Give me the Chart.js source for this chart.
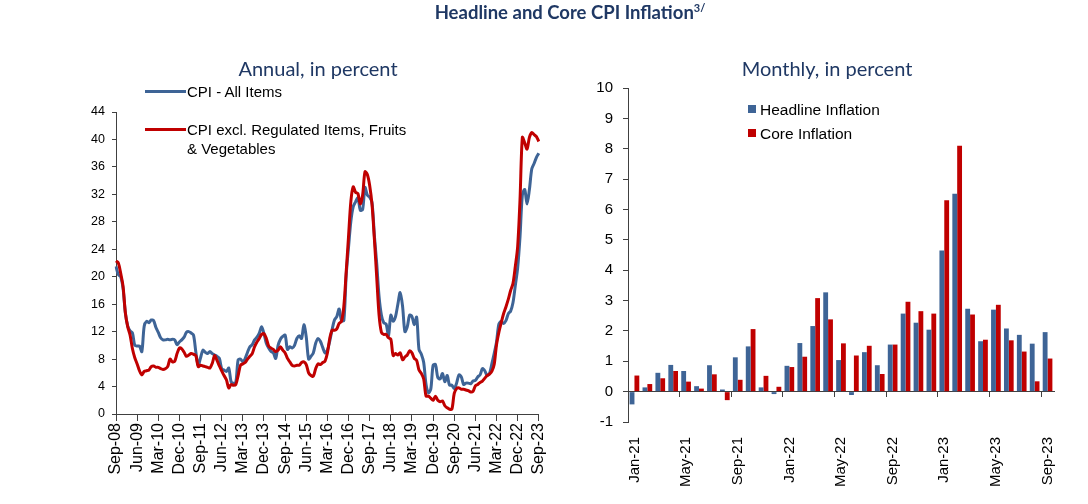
<!DOCTYPE html>
<html>
<head>
<meta charset="utf-8">
<script src="https://cdn.jsdelivr.net/npm/chart.js@4.4.0/dist/chart.umd.min.js"></script>
<style>
  body { margin: 0; background: #fff; }
  #page { position: relative; width: 1088px; height: 504px; overflow: hidden; font-family: "Liberation Sans", Arial, sans-serif; }
  canvas { position: absolute; top: 0; }
  .title { position: absolute; top: 1px; left: 0; width: 1140px; text-align: center; font: bold 18.5px Lato, sans-serif; color: #1f3864; }
  .title sup { font-size: 11px; }
  .sub { position: absolute; top: 56px; width: 400px; text-align: center; font: 20px Lato, sans-serif; color: #1f3864; }
  .lg { position: absolute; font-size: 15px; line-height: 19px; color: #000; white-space: nowrap; }
  .ln { position: absolute; height: 3px; width: 41px; }
  .sq { position: absolute; width: 8px; height: 8px; }
</style>
</head>
<body>
<div id="page">
  <canvas id="annual" width="560" height="504" style="left:0"></canvas>
  <canvas id="monthly" width="528" height="504" style="left:560px"></canvas>

  <div class="title">Headline and Core CPI Inflation<sup>3/</sup></div>
  <div class="sub" style="left:118px">Annual, in percent</div>
  <div class="sub" style="left:627px">Monthly, in percent</div>

  <div class="ln" style="left:145px; top:90px; background:#3e6496"></div>
  <div class="lg" style="left:187px; top:82px">CPI - All Items</div>
  <div class="ln" style="left:145px; top:128px; background:#c00000"></div>
  <div class="lg" style="left:187px; top:120px">CPI excl. Regulated Items, Fruits<br>&amp; Vegetables</div>

  <div class="sq" style="left:748px; top:105px; background:#3e6496"></div>
  <div class="lg" style="left:760px; top:100px; font-size:15.5px">Headline Inflation</div>
  <div class="sq" style="left:748px; top:129px; background:#c00000"></div>
  <div class="lg" style="left:760px; top:124px; font-size:15.5px">Core Inflation</div>
</div>

<script>
// annual rates, Sep-08 .. Sep-23
const headlineAnnual = [
  21.5, 20.3, 20.0, 18.3,
  14.7, 12.8, 12.1, 11.8, 10.0, 9.9, 9.9, 9.1, 12.8, 13.5, 13.3, 13.7,
  13.6, 12.6, 11.9, 11.1, 10.8, 10.8, 10.9, 10.8, 10.9, 10.8, 10.1, 10.5,
  10.8, 11.2, 11.9, 12.0, 11.8, 11.5, 9.0, 7.1, 8.2, 9.3, 9.0, 8.8,
  9.1, 8.8, 8.6, 8.4, 8.1, 6.6, 6.4, 6.2, 6.7, 4.7, 4.5, 4.6,
  7.9, 8.0, 7.6, 8.1, 9.0, 9.8, 10.1, 10.8, 11.2, 11.8, 12.7, 11.7,
  10.3, 9.6, 9.1, 8.9, 8.1, 10.0, 10.9, 11.3, 11.5, 9.4, 9.8, 9.6,
  10.0, 11.0, 11.4, 11.0, 13.0, 11.2, 8.0, 8.4, 8.9, 10.3, 11.0, 10.6,
  9.7, 8.9, 9.3, 10.6, 12.3, 13.7, 14.2, 15.3, 13.6, 13.6, 20.2, 24.3,
  28.1, 30.2, 30.9, 31.5, 29.7, 29.8, 33.0, 31.9, 31.6, 30.8, 26.0, 21.9,
  17.1, 14.4, 13.3, 13.1, 11.4, 14.4, 13.5, 14.2, 16.0, 17.7, 15.7, 12.0,
  12.7, 14.4, 14.2, 13.0, 14.1, 9.4, 8.7, 7.5, 4.3, 3.1, 3.6, 7.1,
  7.2, 5.3, 5.1, 5.9, 4.7, 5.6, 4.2, 4.2, 3.7, 4.5, 5.7, 5.4,
  4.3, 4.5, 4.5, 4.4, 4.8, 4.9, 5.4, 5.7, 6.6, 6.3, 5.6, 5.9,
  7.3, 8.8, 10.5, 13.1, 13.5, 13.2, 13.6, 14.6, 15.0, 16.2, 18.7, 21.3,
  25.8, 31.9, 32.7, 30.6, 32.7, 35.7, 36.5, 37.4, 38.0
];
const coreAnnual = [
  22.3, 22.0, 20.5, 18.6,
  14.7, 12.7, 11.5, 9.5, 8.2, 7.3, 6.3, 5.7, 6.2, 6.3, 6.4, 6.9,
  7.0, 6.8, 6.8, 6.6, 6.5, 6.6, 6.9, 8.0, 7.6, 7.7, 8.8, 9.6,
  9.5, 9.0, 8.4, 8.6, 8.8, 8.7, 8.5, 6.9, 7.1, 7.0, 6.9, 6.8,
  6.7, 7.4, 8.5, 7.8, 7.0, 6.3, 5.6, 5.0, 3.8, 4.3, 4.2, 4.3,
  5.6, 7.1, 7.3, 7.5, 8.0, 8.4, 8.8, 9.8, 10.5, 11.0, 11.6, 11.7,
  11.0, 9.9, 9.6, 9.4, 9.1, 9.3, 9.8, 9.3, 8.9, 8.1, 7.6, 7.1,
  7.0, 7.1, 7.1, 7.5, 7.6, 7.2, 6.0, 5.6, 5.5, 6.6, 7.3, 7.2,
  7.5, 7.7, 8.9, 11.0, 12.2, 12.2, 12.4, 13.2, 13.5, 15.7, 20.7, 25.9,
  31.0, 33.1, 32.3, 32.1, 30.6, 31.9, 35.3, 34.9, 33.3, 30.5, 25.5, 19.9,
  14.4, 11.9, 11.6, 11.6, 11.1, 10.9, 8.5, 8.8, 8.6, 8.9, 7.9, 8.3,
  8.6, 9.2, 8.9, 8.1, 7.8, 6.4, 5.9, 5.1, 2.6, 2.6, 2.3, 2.0,
  2.6, 2.0, 1.8, 1.9, 1.2, 0.9, 0.7, 0.7, 3.0, 3.7, 3.8, 3.6,
  3.6, 3.5, 3.4, 3.2, 3.3, 4.1, 4.3, 4.6, 4.8, 5.2, 5.6, 5.8,
  6.2, 7.2, 10.1, 11.9, 13.3, 14.6, 15.6, 16.7, 18.0, 19.0, 21.5, 24.4,
  31.2, 40.3, 39.5, 38.6, 40.3, 41.0, 40.7, 40.4, 39.7
];

// monthly rates, Jan-21 .. Sep-23
const monthlyLabels = [
  'Jan-21', 'Feb-21', 'Mar-21', 'Apr-21', 'May-21', 'Jun-21', 'Jul-21', 'Aug-21', 'Sep-21', 'Oct-21', 'Nov-21', 'Dec-21',
  'Jan-22', 'Feb-22', 'Mar-22', 'Apr-22', 'May-22', 'Jun-22', 'Jul-22', 'Aug-22', 'Sep-22', 'Oct-22', 'Nov-22', 'Dec-22',
  'Jan-23', 'Feb-23', 'Mar-23', 'Apr-23', 'May-23', 'Jun-23', 'Jul-23', 'Aug-23', 'Sep-23'
];
const headlineMonthly = [-0.42, 0.14, 0.62, 0.88, 0.68, 0.18, 0.87, 0.07, 1.13, 1.49, 0.14, -0.08,
  0.85, 1.60, 2.16, 3.27, 1.04, -0.11, 1.30, 0.87, 1.55, 2.57, 2.27, 2.04,
  4.65, 6.52, 2.73, 1.66, 2.70, 2.08, 1.87, 1.58, 1.96];
const coreMonthly = [0.53, 0.25, 0.44, 0.68, 0.33, 0.10, 0.57, -0.28, 0.39, 2.06, 0.52, 0.16,
  0.81, 1.15, 3.08, 2.38, 1.59, 1.19, 1.51, 0.58, 1.55, 2.96, 2.65, 2.57,
  6.30, 8.10, 2.54, 1.71, 2.86, 1.69, 1.32, 0.34, 1.09];

// month categories for the annual chart
const monthNames = ['Jan', 'Feb', 'Mar', 'Apr', 'May', 'Jun', 'Jul', 'Aug', 'Sep', 'Oct', 'Nov', 'Dec'];
const annualMonths = [];
for (let k = 0; k < headlineAnnual.length; k++) {
  const m = (8 + k) % 12;
  const yr = 8 + Math.floor((8 + k) / 12);
  annualMonths.push(monthNames[m] + '-' + String(yr).padStart(2, '0'));
}

const BLUE = '#3e6496';
const RED = '#c00000';
const AXIS = '#404040';

Chart.defaults.font.family = "'Liberation Sans', Arial, sans-serif";
Chart.defaults.color = '#000';
Chart.defaults.animation = false;

new Chart(document.getElementById('annual'), {
  type: 'line',
  data: {
    labels: annualMonths,
    datasets: [
      { label: 'CPI - All Items', data: headlineAnnual, borderColor: BLUE, borderWidth: 3, pointRadius: 0, tension: 0.3, order: 2 },
      { label: 'CPI excl. Regulated Items, Fruits & Vegetables', data: coreAnnual, borderColor: RED, borderWidth: 3, pointRadius: 0, tension: 0.3, order: 1 }
    ]
  },
  options: {
    responsive: false,
    devicePixelRatio: 1,
    layout: { padding: { left: 76, right: 21, top: 112, bottom: 10 } },
    plugins: { legend: { display: false }, tooltip: { enabled: false } },
    scales: {
      x: {
        afterFit: (s) => { s.height = 80; },
        grid: {
          drawOnChartArea: false, tickLength: 7,
          tickColor: (ctx) => ctx.index % 9 === 0 ? AXIS : 'rgba(0,0,0,0)'
        },
        border: { color: AXIS, width: 1 },
        ticks: {
          autoSkip: false, minRotation: 90, maxRotation: 90, padding: 2,
          font: { size: 16 },
          callback: (v, i) => i % 9 === 0 ? annualMonths[i] : ''
        }
      },
      y: {
        min: 0, max: 44,
        afterFit: (s) => { s.width = 40; },
        grid: { drawOnChartArea: false, tickLength: 4, tickColor: AXIS },
        border: { color: AXIS, width: 1 },
        ticks: { stepSize: 4, padding: 7, font: { size: 12.5 } }
      }
    }
  }
});

new Chart(document.getElementById('monthly'), {
  type: 'bar',
  data: {
    labels: monthlyLabels,
    datasets: [
      { label: 'Headline Inflation', data: headlineMonthly, backgroundColor: BLUE, categoryPercentage: 0.75, barPercentage: 1.0 },
      { label: 'Core Inflation', data: coreMonthly, backgroundColor: RED, categoryPercentage: 0.75, barPercentage: 1.0 }
    ]
  },
  options: {
    responsive: false,
    devicePixelRatio: 1,
    layout: { padding: { left: 28, right: 34, top: 88, bottom: 8 } },
    plugins: { legend: { display: false }, tooltip: { enabled: false } },
    scales: {
      x: {
        position: { y: 0 },
        offset: true,
        grid: {
          offset: true, drawOnChartArea: false, tickLength: 5,
          tickColor: (ctx) => ctx.index % 4 === 0 ? AXIS : 'rgba(0,0,0,0)'
        },
        border: { color: AXIS, width: 1 },
        ticks: { display: false, autoSkip: false }
      },
      x2: {
        type: 'category',
        position: 'bottom',
        offset: true,
        afterFit: (s) => { s.height = 74; },
        grid: { display: false, offset: true },
        border: { display: false },
        ticks: {
          autoSkip: false, minRotation: 90, maxRotation: 90, padding: 7,
          font: { size: 15 },
          callback: (v, i) => i % 4 === 0 ? monthlyLabels[i] : ''
        }
      },
      y: {
        min: -1, max: 10,
        afterFit: (s) => { s.width = 40; },
        grid: { drawOnChartArea: false, tickLength: 5, tickColor: AXIS },
        border: { color: AXIS, width: 1 },
        ticks: { stepSize: 1, padding: 10, font: { size: 15 } }
      }
    }
  }
});
</script>
</body>
</html>
